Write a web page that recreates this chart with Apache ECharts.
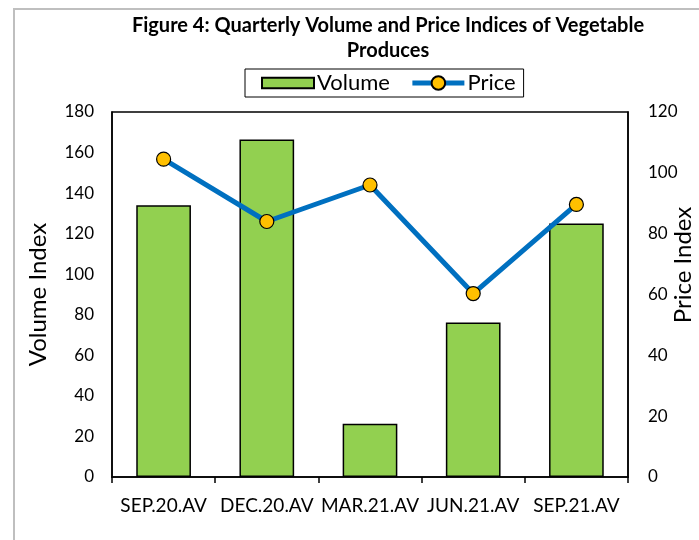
<!DOCTYPE html>
<html>
<head>
<meta charset="utf-8">
<script src="https://cdn.jsdelivr.net/npm/echarts@6/dist/echarts.min.js"></script>
<style>
  html, body { margin: 0; padding: 0; background: #fff; }
  #frame { position: absolute; left: 13px; top: 8px; width: 700px; height: 540px; border: 2px solid #bfbfbf; box-sizing: border-box; }
  #chart { position: absolute; left: 0; top: 0; width: 699px; height: 540px; }
</style>
</head>
<body>
<div id="frame"></div>
<div id="chart"></div>
<script>
const categories = ['SEP.20.AV', 'DEC.20.AV', 'MAR.21.AV', 'JUN.21.AV', 'SEP.21.AV'];
const volume = [134, 166.5, 26.3, 76.2, 125];
const price = [104.5, 84, 96, 60.3, 89.6];

const font = 'Lato, "Open Sans", sans-serif';
const chart = echarts.init(document.getElementById('chart'));

chart.setOption({
  animation: false,
  textStyle: { fontFamily: font, color: '#000' },
  title: {
    text: 'Figure 4: Quarterly Volume and Price Indices of Vegetable\nProduces',
    left: 383,
    top: 8,
    textAlign: 'center',
    textStyle: { fontFamily: font, fontSize: 20, fontWeight: 'bold', color: '#000', lineHeight: 25 }
  },
  legend: {
    left: 245,
    top: 69,
    padding: [3, 8, 3, 16],
    itemGap: 20,
    borderColor: '#000',
    borderWidth: 1,
    itemWidth: 52,
    itemHeight: 17,
    lineStyle: { width: 5 },
    textStyle: { fontFamily: font, fontSize: 22, color: '#000', padding: [0, 0, 0, -2] },
    data: [
      { name: 'Volume', icon: 'path://M0,0 H50 V10 H0 Z' },
      { name: 'Price' }
    ]
  },
  grid: { left: 112, right: 71, top: 112, bottom: 63 },
  xAxis: {
    type: 'category',
    data: categories,
    axisLine: { lineStyle: { color: '#000', width: 1.5 } },
    axisTick: { show: true, length: 6, lineStyle: { color: '#000', width: 1.5 } },
    axisLabel: { fontFamily: font, fontSize: 19, color: '#000', margin: 19, interval: 0 }
  },
  yAxis: [
    {
      type: 'value',
      min: 0, max: 180, interval: 20,
      name: 'Volume Index',
      nameLocation: 'middle',
      nameGap: 62,
      nameTextStyle: { fontFamily: font, fontSize: 24, color: '#000' },
      axisLine: { show: true, lineStyle: { color: '#000', width: 1.5 } },
      axisTick: { show: false },
      splitLine: { show: false },
      axisLabel: { fontFamily: font, fontSize: 17, color: '#000', margin: 18 }
    },
    {
      type: 'value',
      min: 0, max: 120, interval: 20,
      position: 'right',
      axisLine: { show: true, lineStyle: { color: '#000', width: 1.5 } },
      axisTick: { show: false },
      splitLine: { show: false },
      axisLabel: { fontFamily: font, fontSize: 17, color: '#000', margin: 20 }
    }
  ],
  graphic: [
    {
      type: 'rect',
      shape: { x: 112, y: 112, width: 516, height: 365 },
      style: { fill: 'none', stroke: '#000', lineWidth: 1.5 },
      silent: true
    },
    {
      type: 'text',
      x: 683,
      y: 265,
      rotation: Math.PI / 2,
      style: {
        text: 'Price Index',
        fontFamily: font,
        fontSize: 24,
        fill: '#000',
        align: 'center',
        verticalAlign: 'middle'
      }
    }
  ],
  series: [
    {
      name: 'Volume',
      type: 'bar',
      data: volume,
      barWidth: '53%',
      itemStyle: { color: '#92D050', borderColor: '#000', borderWidth: 1.5 }
    },
    {
      name: 'Price',
      type: 'line',
      yAxisIndex: 1,
      data: price,
      symbol: 'circle',
      symbolSize: 14,
      lineStyle: { color: '#0070C0', width: 5 },
      itemStyle: { color: '#FFC000', borderColor: '#000', borderWidth: 1.2 },
      z: 5
    }
  ]
});
</script>
</body>
</html>
